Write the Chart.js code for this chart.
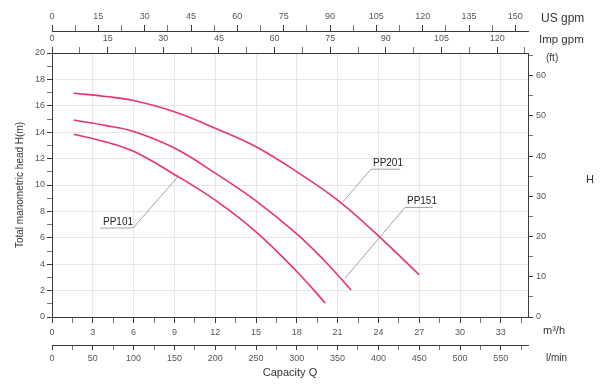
<!DOCTYPE html>
<html><head><meta charset="utf-8">
<script src="https://cdn.jsdelivr.net/npm/chart.js@4"></script>
<style>html,body{margin:0;padding:0;background:#fff}#wrap{width:600px;height:385px;position:relative}</style>
</head><body><div id="wrap"><canvas id="c"></canvas></div>
<script>
// ---- data ----
const pp201Q = [1.6, 4, 6, 9, 12, 15, 18, 21, 24, 27];
const pp201H = [16.95, 16.7, 16.4, 15.55, 14.3, 12.9, 11.0, 8.85, 6.15, 3.2];
const pp151Q = [1.6, 4, 6, 9, 12, 15, 18, 20, 22];
const pp151H = [14.92, 14.5, 14.05, 12.8, 10.9, 8.8, 6.3, 4.3, 2.05];
const pp101Q = [1.6, 4, 6, 9, 12, 15, 18, 20.1];
const pp101H = [13.85, 13.25, 12.55, 10.8, 8.85, 6.45, 3.45, 1.05];
const seriesNames = ['PP201', 'PP151', 'PP101'];

// ---- tick labels ----
const m3hTicks = [0, 3, 6, 9, 12, 15, 18, 21, 24, 27, 30, 33];
const lminTicks = [0, 50, 100, 150, 200, 250, 300, 350, 400, 450, 500, 550];
const usGpmTicks = [0, 15, 30, 45, 60, 75, 90, 105, 120, 135, 150];
const impGpmTicks = [0, 15, 30, 45, 60, 75, 90, 105, 120];
const headMTicks = [0, 2, 4, 6, 8, 10, 12, 14, 16, 18, 20];
const headFtTicks = [0, 10, 20, 30, 40, 50, 60];

// unit conversions
const Q_MAX = 35, H_MAX = 20;
const LMIN_PER_M3H = 1000 / 60, USGPM_PER_M3H = 4.40287, IMPGPM_PER_M3H = 3.66615, FT_PER_M = 3.28084;

const CURVE = '#e8336b';
const AX = '#3a3a3a';
const TXT = '#555';
const FONT = "'Liberation Sans', Arial, sans-serif";

function toPts(q, h) { return q.map((v, i) => ({x: v, y: h[i]})); }

function tickBuilder(major, minorStep, max) {
  return (scale) => {
    const vals = [];
    for (let v = 0; v <= max + 1e-9; v += minorStep) vals.push(+v.toFixed(4));
    scale.ticks = vals.map(v => ({value: v, isMain: major.some(m => Math.abs(m - v) < 1e-6)}));
  };
}
const labelCb = (value, i, ticks) => ticks[i].isMain ? String(value) : '';

function axis(opts) {
  const o = {
    type: 'linear',
    position: opts.position,
    min: 0, max: opts.max,
    weight: opts.weight || 0,
    afterBuildTicks: tickBuilder(opts.major, opts.minor, opts.max),
    afterFit: (s) => { if (opts.w != null) s.width = opts.w; if (opts.h != null) s.height = opts.h; },
    ticks: {autoSkip: false, maxRotation: 0, includeBounds: false, callback: labelCb,
      padding: opts.pad, color: TXT, font: {family: FONT, size: 9}},
    grid: {
      drawOnChartArea: !!opts.grid,
      tickLength: opts.tl,
      color: (c) => (c.tick && c.tick.isMain) ? '#e6e6e6' : 'rgba(0,0,0,0)',
      tickColor: AX,
      tickWidth: (c) => (c.tick && c.tick.isMain) ? 1 : 0.7,
      lineWidth: 1
    },
    border: {display: true, color: AX, width: 1}
  };
  if (opts.axis) o.axis = opts.axis;
  if (opts.title) o.title = {display: true, text: opts.title, color: '#333', font: {family: FONT, size: opts.titleSize || 11}, padding: 4};
  return o;
}

const leaders = [
  {text: 'PP201', tx: 23.6, ty: 11.67, a: [23.45, 11.2], b: [21.4, 8.73], u: [23.45, 25.6]},
  {text: 'PP151', tx: 26.1, ty: 8.8, a: [25.96, 8.3], b: [21.54, 2.93], u: [25.96, 28.0]},
  {text: 'PP101', tx: 3.75, ty: 7.2, a: [5.96, 6.74], b: [9.26, 10.63], u: [3.53, 5.96]}
];

const annotate = {
  id: 'annotate',
  afterDatasetsDraw(chart) {
    const {ctx} = chart, xs = chart.scales.x, ys = chart.scales.y;
    ctx.save();
    ctx.strokeStyle = '#8a8a8a'; ctx.lineWidth = 0.8;
    ctx.font = '10px ' + FONT; ctx.fillStyle = '#222';
    ctx.textAlign = 'left'; ctx.textBaseline = 'middle';
    leaders.forEach(l => {
      const ay = ys.getPixelForValue(l.a[1]);
      ctx.beginPath();
      ctx.moveTo(xs.getPixelForValue(l.u[0]), ay);
      ctx.lineTo(xs.getPixelForValue(l.u[1]), ay);
      ctx.moveTo(xs.getPixelForValue(l.a[0]), ay);
      ctx.lineTo(xs.getPixelForValue(l.b[0]), ys.getPixelForValue(l.b[1]));
      ctx.stroke();
      ctx.fillText(l.text, xs.getPixelForValue(l.tx), ys.getPixelForValue(l.ty));
    });
    ctx.restore();
  },
  afterDraw(chart) {
    const {ctx, chartArea: ca} = chart, s = chart.scales;
    ctx.save();
    ctx.fillStyle = '#333'; ctx.textBaseline = 'middle'; ctx.textAlign = 'left';
    ctx.font = '12px ' + FONT;
    ctx.fillText('US gpm', ca.right + 13, s.xus.top + 9);
    ctx.font = '11.5px ' + FONT;
    ctx.fillText('Imp gpm', ca.right + 11, s.ximp.top + 9);
    ctx.font = '10px ' + FONT;
    ctx.fillText('(ft)', ca.right + 18, ca.top + 5);
    ctx.font = '11px ' + FONT;
    ctx.fillText('m³/h', ca.right + 15, s.x.top + 14);
    ctx.font = '10px ' + FONT;
    ctx.fillText('l/min', ca.right + 18, s.xl.top + 13);
    ctx.font = '11px ' + FONT; ctx.textAlign = 'center';
    ctx.fillText('H', 590, (ca.top + ca.bottom) / 2 - 5);
    ctx.restore();
  }
};

const mk = (name, q, h) => ({label: name, data: toPts(q, h), borderColor: CURVE, borderWidth: 1.6,
  pointRadius: 0, fill: false, tension: 0.4, xAxisID: 'x', yAxisID: 'y'});

new Chart(document.getElementById('c'), {
  type: 'line',
  data: {datasets: [
    mk(seriesNames[0], pp201Q, pp201H),
    mk(seriesNames[1], pp151Q, pp151H),
    mk(seriesNames[2], pp101Q, pp101H)
  ]},
  options: {
    responsive: true, maintainAspectRatio: false, animation: false, devicePixelRatio: 1,
    layout: {padding: {left: 10, right: 50, top: 10, bottom: 1}},
    plugins: {legend: {display: false}, tooltip: {enabled: false}},
    scales: {
      x: axis({position: 'bottom', axis: 'x', max: Q_MAX, major: m3hTicks, minor: 1.5, grid: true, tl: 6, pad: 4, h: 28, weight: 0}),
      xl: axis({position: 'bottom', axis: 'x', max: Q_MAX * LMIN_PER_M3H, major: lminTicks, minor: 25, tl: 5, pad: 3, h: 39, weight: 1, title: 'Capacity Q', titleSize: 11}),
      ximp: axis({position: 'top', axis: 'x', max: Q_MAX * IMPGPM_PER_M3H, major: impGpmTicks, minor: 7.5, tl: 6, pad: 3, h: 22, weight: 0}),
      xus: axis({position: 'top', axis: 'x', max: Q_MAX * USGPM_PER_M3H, major: usGpmTicks, minor: 7.5, tl: 6, pad: 3, h: 21, weight: 1}),
      y: axis({position: 'left', axis: 'y', max: H_MAX, major: headMTicks, minor: 1, grid: true, tl: 5, pad: 2, w: 42, title: 'Total manometric head H(m)', titleSize: 10}),
      yft: axis({position: 'right', axis: 'y', max: H_MAX * FT_PER_M, major: headFtTicks, minor: 5, tl: 5, pad: 3, w: 22})
    }
  },
  plugins: [annotate]
});
</script>
</body></html>
